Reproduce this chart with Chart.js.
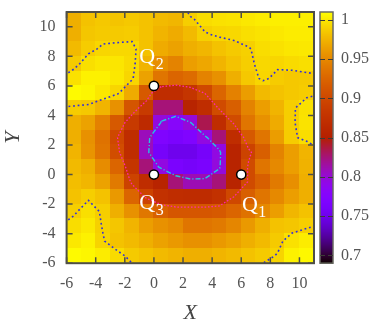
<!DOCTYPE html>
<html>
<head>
<meta charset="utf-8">
<script src="https://cdn.jsdelivr.net/npm/chart.js@4.4.1/dist/chart.umd.min.js"></script>
<style>
  html, body { margin: 0; padding: 0; background: #fff; }
</style>
</head>
<body>
<canvas id="heat" width="381" height="322"></canvas>
<script>
// cell centres of the map (one cell = 1 unit)
var xCenters = [-5.5, -4.5, -3.5, -2.5, -1.5, -0.5, 0.5, 1.5, 2.5, 3.5, 4.5, 5.5, 6.5, 7.5, 8.5, 9.5, 10.5];
var yCenters = [10.5, 9.5, 8.5, 7.5, 6.5, 5.5, 4.5, 3.5, 2.5, 1.5, 0.5, -0.5, -1.5, -2.5, -3.5, -4.5, -5.5];

// values per row, top row first
var values = [
  [0.972, 0.982, 0.985, 0.983, 0.985, 0.982, 0.978, 0.976, 0.988, 0.995, 0.997, 0.998, 1.0, 1.002, 1.003, 1.003, 1.003],
  [0.972, 0.984, 0.986, 0.986, 0.987, 0.982, 0.975, 0.970, 0.978, 0.989, 0.992, 0.993, 0.996, 0.998, 1.0, 1.002, 1.002],
  [0.978, 0.987, 0.992, 0.993, 0.993, 0.982, 0.970, 0.965, 0.972, 0.976, 0.982, 0.986, 0.989, 0.995, 0.997, 0.999, 1.0],
  [0.986, 0.996, 0.999, 0.999, 0.994, 0.975, 0.954, 0.946, 0.963, 0.968, 0.975, 0.982, 0.988, 0.993, 0.992, 0.994, 0.996],
  [0.997, 1.004, 1.004, 1.0, 0.992, 0.965, 0.937, 0.925, 0.930, 0.946, 0.955, 0.972, 0.985, 0.992, 0.987, 0.985, 0.986],
  [1.008, 1.006, 1.0, 0.992, 0.970, 0.915, 0.870, 0.870, 0.880, 0.900, 0.925, 0.945, 0.962, 0.978, 0.982, 0.985, 0.987],
  [0.987, 0.985, 0.975, 0.955, 0.912, 0.885, 0.825, 0.825, 0.856, 0.870, 0.903, 0.920, 0.946, 0.963, 0.975, 0.988, 0.997],
  [0.972, 0.965, 0.945, 0.915, 0.885, 0.865, 0.797, 0.780, 0.798, 0.834, 0.870, 0.903, 0.937, 0.955, 0.970, 0.988, 0.998],
  [0.972, 0.955, 0.935, 0.900, 0.870, 0.808, 0.770, 0.765, 0.770, 0.795, 0.825, 0.870, 0.915, 0.937, 0.962, 0.987, 0.995],
  [0.975, 0.957, 0.937, 0.905, 0.870, 0.807, 0.760, 0.751, 0.751, 0.760, 0.795, 0.856, 0.895, 0.920, 0.946, 0.963, 0.975],
  [0.978, 0.972, 0.952, 0.925, 0.880, 0.825, 0.795, 0.765, 0.760, 0.765, 0.797, 0.856, 0.903, 0.937, 0.950, 0.963, 0.974],
  [0.980, 0.976, 0.965, 0.940, 0.895, 0.870, 0.856, 0.825, 0.810, 0.810, 0.825, 0.856, 0.903, 0.920, 0.940, 0.954, 0.972],
  [0.982, 0.988, 0.982, 0.960, 0.925, 0.895, 0.875, 0.870, 0.868, 0.868, 0.875, 0.900, 0.920, 0.937, 0.950, 0.963, 0.972],
  [0.988, 0.996, 0.988, 0.972, 0.955, 0.938, 0.922, 0.913, 0.913, 0.913, 0.915, 0.925, 0.935, 0.950, 0.963, 0.976, 0.982],
  [0.995, 1.0, 0.989, 0.984, 0.975, 0.963, 0.955, 0.950, 0.937, 0.937, 0.940, 0.948, 0.960, 0.972, 0.982, 0.984, 0.988],
  [1.0, 1.004, 0.991, 0.982, 0.978, 0.972, 0.965, 0.960, 0.955, 0.955, 0.960, 0.965, 0.972, 0.978, 0.986, 0.997, 1.002],
  [1.008, 1.006, 1.002, 0.994, 0.986, 0.982, 0.978, 0.975, 0.972, 0.972, 0.975, 0.978, 0.982, 0.986, 0.991, 1.004, 1.007]
];

var xTicks = [-6, -4, -2, 0, 2, 4, 6, 8, 10];
var yTicks = [-6, -4, -2, 0, 2, 4, 6, 8, 10];
var cbTicks = [0.7, 0.75, 0.8, 0.85, 0.9, 0.95, 1];
var cbLabels = ['0.7', '0.75', '0.8', '0.85', '0.9', '0.95', '1'];
var cbMin = 0.69, cbMax = 1.01;

// contour levels and their look
var contourLevels = [0.8, 0.9, 0.99];
var contourColors = ['#25c3e2', '#ff2aa8', '#2f2fdc'];
var contourDash = [[5, 2, 1.2, 2], [1.6, 1.8], [1.8, 2.8]];
var contourWidth = [1.4, 1.3, 1.6];

// marked points and their labels
var pointNames = ['1', '2', '3'];
var pointX = [6, 0, 0];
var pointY = [0, 6, 0];
var labelX = [6.05, -1.0, -1.0];
var labelY = [-2.45, 7.55, -2.3];

var serif = "'Liberation Serif', 'DejaVu Serif', serif";
var textGray = '#555555';
var frameColor = '#4f4f47';

function palette(v) {
    // gnuplot default pm3d palette (rgbformulae 7,5,15)
    var t = (v - cbMin) / (cbMax - cbMin);
    t = Math.max(0, Math.min(1, t));
    var r = Math.sqrt(t), g = t * t * t, b = Math.max(0, Math.sin(2 * Math.PI * t));
    return 'rgb(' + Math.round(255 * r) + ',' + Math.round(255 * g) + ',' + Math.round(255 * b) + ')';
}

// grid padded by one ring of extrapolated values so contours reach the frame
function paddedGrid() {
    var rows = values.map(function(row) {
        var n = row.length;
        return [2 * row[0] - row[1]].concat(row, [2 * row[n - 1] - row[n - 2]]);
    });
    var m = rows.length;
    var top = rows[0].map(function(v, i) { return 2 * v - rows[1][i]; });
    var bottom = rows[m - 1].map(function(v, i) { return 2 * v - rows[m - 2][i]; });
    var gx = [xCenters[0] - 1].concat(xCenters, [xCenters[xCenters.length - 1] + 1]);
    var gy = [yCenters[0] + 1].concat(yCenters, [yCenters[yCenters.length - 1] - 1]);
    return { v: [top].concat(rows, [bottom]), gx: gx, gy: gy };
}

function contourSegments(grid, level) {
    var segs = [];
    var V = grid.v, gx = grid.gx, gy = grid.gy;
    function pt(key, x1, y1, v1, x2, y2, v2) {
        var t = (level - v1) / (v2 - v1);
        return { k: key, x: x1 + t * (x2 - x1), y: y1 + t * (y2 - y1) };
    }
    for (var j = 0; j < V.length - 1; j++) {
        for (var i = 0; i < V[j].length - 1; i++) {
            var a = V[j][i], b = V[j][i + 1], c = V[j + 1][i + 1], d = V[j + 1][i];
            var A = a >= level, B = b >= level, C = c >= level, D = d >= level;
            var e = {};
            if (A !== B) e.t = pt('h' + j + '_' + i, gx[i], gy[j], a, gx[i + 1], gy[j], b);
            if (B !== C) e.r = pt('v' + j + '_' + (i + 1), gx[i + 1], gy[j], b, gx[i + 1], gy[j + 1], c);
            if (D !== C) e.b = pt('h' + (j + 1) + '_' + i, gx[i], gy[j + 1], d, gx[i + 1], gy[j + 1], c);
            if (A !== D) e.l = pt('v' + j + '_' + i, gx[i], gy[j], a, gx[i], gy[j + 1], d);
            var keys = Object.keys(e);
            if (keys.length === 2) {
                segs.push([e[keys[0]], e[keys[1]]]);
            } else if (keys.length === 4) {
                var centre = (a + b + c + d) / 4 >= level;
                if (centre === A) {
                    segs.push([e.t, e.r]); segs.push([e.b, e.l]);
                } else {
                    segs.push([e.t, e.l]); segs.push([e.r, e.b]);
                }
            }
        }
    }
    return segs;
}

function chainSegments(segs) {
    var byKey = {};
    segs.forEach(function(s, i) {
        [s[0].k, s[1].k].forEach(function(k) { (byKey[k] = byKey[k] || []).push(i); });
    });
    var used = segs.map(function() { return false; });
    var lines = [];
    for (var i = 0; i < segs.length; i++) {
        if (used[i]) continue;
        used[i] = true;
        var line = [segs[i][0], segs[i][1]];
        for (var pass = 0; pass < 2; pass++) {
            while (true) {
                var end = line[line.length - 1];
                var next = (byKey[end.k] || []).filter(function(n) { return !used[n]; })[0];
                if (next === undefined) break;
                used[next] = true;
                line.push(segs[next][0].k === end.k ? segs[next][1] : segs[next][0]);
            }
            line.reverse();
        }
        lines.push(line);
    }
    return lines;
}

var heatPlugin = {
    id: 'heat',
    beforeDatasetsDraw: function(chart) {
        var ctx = chart.ctx, area = chart.chartArea;
        var xs = chart.scales.x, ys = chart.scales.y, cb = chart.scales.cb;

        // map cells
        for (var r = 0; r < values.length; r++) {
            for (var c = 0; c < values[r].length; c++) {
                var x0 = Math.floor(xs.getPixelForValue(xCenters[c] - 0.5));
                var x1 = Math.ceil(xs.getPixelForValue(xCenters[c] + 0.5));
                var y0 = Math.floor(ys.getPixelForValue(yCenters[r] + 0.5));
                var y1 = Math.ceil(ys.getPixelForValue(yCenters[r] - 0.5));
                ctx.fillStyle = palette(values[r][c]);
                ctx.fillRect(x0, y0, x1 - x0, y1 - y0);
            }
        }

        // contour lines
        var grid = paddedGrid();
        ctx.save();
        ctx.beginPath();
        ctx.rect(area.left, area.top, area.right - area.left, area.bottom - area.top);
        ctx.clip();
        contourLevels.forEach(function(level, li) {
            var lines = chainSegments(contourSegments(grid, level));
            ctx.strokeStyle = contourColors[li];
            ctx.lineWidth = contourWidth[li];
            ctx.setLineDash(contourDash[li]);
            lines.forEach(function(line) {
                ctx.beginPath();
                line.forEach(function(p, k) {
                    var px = xs.getPixelForValue(p.x), py = ys.getPixelForValue(p.y);
                    if (k === 0) ctx.moveTo(px, py); else ctx.lineTo(px, py);
                });
                ctx.stroke();
            });
        });
        ctx.restore();

        // frame with inward ticks
        ctx.save();
        ctx.strokeStyle = frameColor;
        ctx.lineWidth = 2;
        ctx.strokeRect(area.left, area.top, area.right - area.left, area.bottom - area.top);
        ctx.lineWidth = 1.5;
        ctx.beginPath();
        xTicks.forEach(function(v) {
            var px = xs.getPixelForValue(v);
            ctx.moveTo(px, area.bottom); ctx.lineTo(px, area.bottom - 6);
            ctx.moveTo(px, area.top); ctx.lineTo(px, area.top + 6);
        });
        yTicks.forEach(function(v) {
            var py = ys.getPixelForValue(v);
            ctx.moveTo(area.left, py); ctx.lineTo(area.left + 6, py);
            ctx.moveTo(area.right, py); ctx.lineTo(area.right - 6, py);
        });
        ctx.stroke();

        // colour box
        var bl = cb.left + 6, br = cb.left + 19;
        for (var py = Math.floor(cb.top); py < Math.ceil(cb.bottom); py++) {
            ctx.fillStyle = palette(cb.getValueForPixel(py + 0.5));
            ctx.fillRect(bl, py, br - bl, 1);
        }
        ctx.lineWidth = 1.5;
        ctx.strokeStyle = '#6a6a62';
        ctx.strokeRect(bl, cb.top, br - bl, cb.bottom - cb.top);
        ctx.strokeStyle = '#3c3c36';
        ctx.lineWidth = 1.2;
        ctx.beginPath();
        cbTicks.forEach(function(v) {
            var py = Math.round(cb.getPixelForValue(v)) + 0.5;
            ctx.moveTo(bl, py); ctx.lineTo(bl + 5, py);
            ctx.moveTo(br, py); ctx.lineTo(br - 5, py);
        });
        ctx.stroke();
        ctx.restore();
    },
    afterDatasetsDraw: function(chart) {
        var ctx = chart.ctx, xs = chart.scales.x, ys = chart.scales.y;
        ctx.save();
        ctx.fillStyle = '#ffffff';
        ctx.textBaseline = 'alphabetic';
        ctx.textAlign = 'left';
        pointNames.forEach(function(name, i) {
            var px = xs.getPixelForValue(labelX[i]), py = ys.getPixelForValue(labelY[i]);
            ctx.font = '22px ' + serif;
            ctx.fillText('Q', px, py);
            var w = ctx.measureText('Q').width;
            ctx.font = '16px ' + serif;
            ctx.fillText(name, px + w + 0.5, py + 6);
        });
        ctx.restore();
    }
};

var ctx = document.getElementById('heat').getContext('2d');
var heatChart = new Chart(ctx, {
    type: 'scatter',
    data: {
        datasets: [{
            data: pointX.map(function(x, i) { return { x: x, y: pointY[i] }; }),
            pointRadius: 4.6,
            pointHoverRadius: 4.6,
            pointBackgroundColor: '#ffffff',
            pointBorderColor: '#000000',
            pointBorderWidth: 1.5,
            clip: false
        }]
    },
    options: {
        responsive: false,
        animation: false,
        devicePixelRatio: 1,
        events: [],
        layout: { padding: { left: 0, right: 10, top: 12, bottom: 0 } },
        plugins: { legend: { display: false }, tooltip: { enabled: false } },
        scales: {
            x: {
                type: 'linear', position: 'bottom', min: -6, max: 11,
                afterBuildTicks: function(s) { s.ticks = xTicks.map(function(v) { return { value: v }; }); },
                grid: { display: false, drawTicks: false },
                border: { display: false },
                ticks: {
                    color: textGray, padding: 11, maxRotation: 0, autoSkip: false,
                    font: { family: serif, size: 16 },
                    callback: function(v) { return String(v); }
                },
                title: {
                    display: true, text: 'X', color: '#444',
                    font: { family: serif, size: 22, style: 'italic', lineHeight: 0.8 },
                    padding: { top: 0, bottom: 0 }
                }
            },
            y: {
                type: 'linear', position: 'left', min: -6, max: 11,
                afterBuildTicks: function(s) { s.ticks = yTicks.map(function(v) { return { value: v }; }); },
                grid: { display: true, drawOnChartArea: false, drawTicks: true, tickLength: 9, color: 'rgba(0,0,0,0)' },
                border: { display: false },
                ticks: {
                    color: textGray, padding: 2, autoSkip: false,
                    font: { family: serif, size: 16 },
                    callback: function(v) { return String(v); }
                },
                title: {
                    display: true, text: 'Y', color: '#444',
                    font: { family: serif, size: 22, style: 'italic', lineHeight: 0.8 },
                    padding: { top: 4, bottom: 16 }
                }
            },
            cb: {
                type: 'linear', position: 'right', min: cbMin, max: cbMax,
                afterBuildTicks: function(s) { s.ticks = cbTicks.map(function(v) { return { value: v }; }); },
                grid: { display: true, drawOnChartArea: false, drawTicks: true, tickLength: 25, color: 'rgba(0,0,0,0)' },
                border: { display: false },
                ticks: {
                    color: textGray, padding: 2, autoSkip: false,
                    font: { family: serif, size: 16 },
                    callback: function(v) { return cbLabels[cbTicks.indexOf(v)]; }
                }
            }
        }
    },
    plugins: [heatPlugin]
});
</script>
</body>
</html>
